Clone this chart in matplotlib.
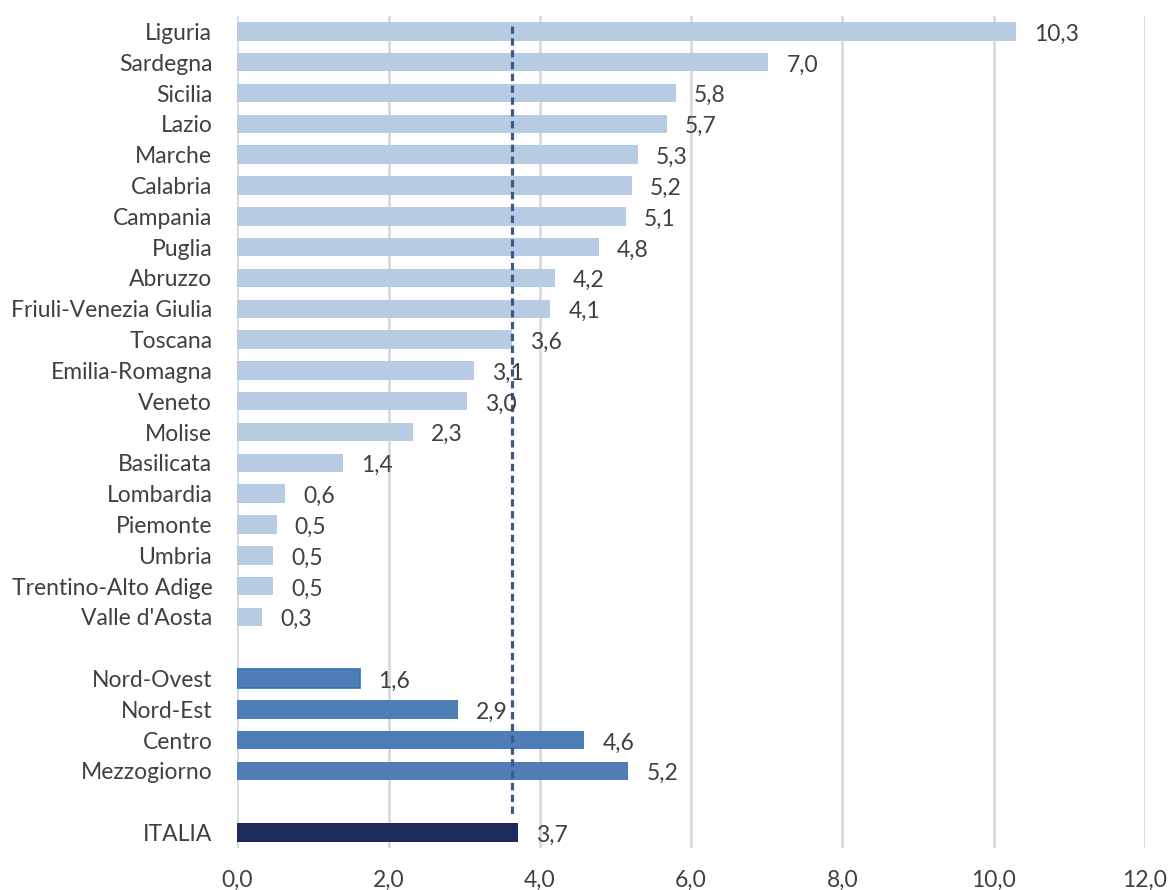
import matplotlib
matplotlib.use("Agg")
import matplotlib.pyplot as plt

plt.rcParams['font.family'] = ['Lato', 'DejaVu Sans']

regions = ["Liguria", "Sardegna", "Sicilia", "Lazio", "Marche", "Calabria",
           "Campania", "Puglia", "Abruzzo", "Friuli-Venezia Giulia", "Toscana",
           "Emilia-Romagna", "Veneto", "Molise", "Basilicata", "Lombardia",
           "Piemonte", "Umbria", "Trentino-Alto Adige", "Valle d'Aosta"]
region_values = [10.3, 7.02, 5.80, 5.68, 5.30, 5.22, 5.14, 4.78, 4.20, 4.14,
                 3.63, 3.13, 3.04, 2.32, 1.40, 0.63, 0.52, 0.47, 0.47, 0.33]
areas = ["Nord-Ovest", "Nord-Est", "Centro", "Mezzogiorno"]
area_values = [1.62, 2.92, 4.59, 5.17]
italy_label = "ITALIA"
italy_value = 3.71
reference_line = 3.63
x_ticks = [0, 2, 4, 6, 8, 10, 12]

c_region = "#B7CBE3"
c_area = "#4F7EB6"
c_italy = "#1F2A5C"
text_c = "#404040"
fs = 16.5

fig = plt.figure(figsize=(11.73, 8.90), dpi=100)
ax = fig.add_axes([0.2023, 0.0472, 0.976 - 0.2023, 0.982 - 0.0472])

labels, values, colors, positions = [], [], [], []
pos = 0
for n, v in zip(regions, region_values):
    labels.append(n); values.append(v); colors.append(c_region); positions.append(pos); pos += 1
pos += 1
for n, v in zip(areas, area_values):
    labels.append(n); values.append(v); colors.append(c_area); positions.append(pos); pos += 1
pos += 1
labels.append(italy_label); values.append(italy_value); colors.append(c_italy); positions.append(pos)

bars = ax.barh(positions, values, height=0.6, color=colors, zorder=2)
# highlighted border on Nord-Ovest
bars[len(regions)].set_edgecolor("#2E75B6")
bars[len(regions)].set_linewidth(1.2)

for p, v in zip(positions, values):
    ax.annotate(f"{v:.1f}".replace(".", ","), xy=(v, p), xytext=(13, -2),
                textcoords="offset points", va="center", ha="left",
                fontsize=fs, color=text_c, zorder=4)

ax.set_ylim(positions[-1] + 0.5, -0.5)
ax.set_xlim(0, 12)
ax.set_yticks(positions)
ax.set_yticklabels(labels)
ax.set_xticks(x_ticks)
ax.set_xticklabels([f"{t:.1f}".replace(".", ",") for t in x_ticks])
ax.tick_params(axis="both", length=0, labelsize=fs, labelcolor=text_c)
ax.tick_params(axis="x", pad=16)
ax.tick_params(axis="y", pad=18)

ax.grid(axis="x", color="#D9D9D9", linewidth=2, zorder=0)
for s in ax.spines.values():
    s.set_visible(False)

ax.plot([reference_line, reference_line], [-0.19, 25.43], color="#3B5A8A",
        linewidth=2.3, linestyle=(0, (2.3, 1.4)), zorder=3)

fig.savefig("out.png", dpi=100)
